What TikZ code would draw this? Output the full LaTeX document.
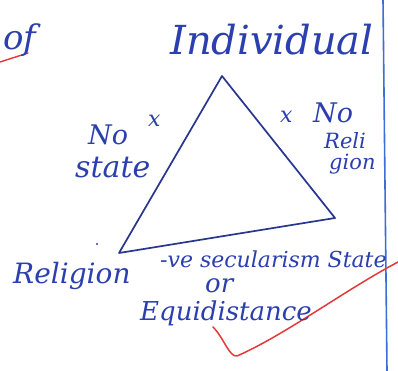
\documentclass[tikz,border=0pt]{standalone}
\usepackage{fontspec}
\setmainfont{DejaVu Serif}
\usepackage{tikz}
\begin{document}
\begin{tikzpicture}[x=1pt,y=-1pt,font=\itshape,line cap=round,line join=round,
  hand/.style={anchor=base west,inner sep=0pt,text=ink}]
\definecolor{ink}{HTML}{2B3FAE}\definecolor{inkii}{HTML}{28368E}
\definecolor{margin}{HTML}{3C6ED6}\definecolor{tick}{HTML}{E5383B}
\useasboundingbox[fill=white] (0,0) rectangle (398,371);
% margin rule and red marks
\draw[margin,line width=1.6pt] (383,0) -- (387,371);
\draw[tick,line width=1.4pt] (0,62) -- (28,53);
\draw[tick,line width=1.5pt] (213,327) .. controls (224,338) and (229,357) .. (237,356)
  .. controls (285,335) and (345,290) .. (398,262);
% heading
\node[hand,font=\fontsize{34}{34}\selectfont\itshape] (of) at (3,50) {of};
\node[hand,font=\fontsize{40}{40}\selectfont\itshape] (indiv) at (170,55) {Individual};
% triangle
\coordinate (top) at (222,76);
\coordinate (rgt) at (335,218);
\coordinate (lft) at (119,253);
\draw[inkii,line width=1.7pt] (top) -- (rgt) -- (lft) -- cycle;
\fill[ink] (97,244) circle (1.2);
% left side
\node[hand,font=\fontsize{22}{22}\selectfont\itshape] (xl) at (148,127) {x};
\node[hand,font=\fontsize{27}{27}\selectfont\itshape] (nol) at (88,145) {No};
\node[hand,font=\fontsize{30}{30}\selectfont\itshape] (state) at (75,178) {state};
% right side
\node[hand,font=\fontsize{22}{22}\selectfont\itshape] (xr) at (280,123) {x};
\node[hand,font=\fontsize{27}{27}\selectfont\itshape] (nor) at (313,123) {No};
\node[hand,font=\fontsize{21}{21}\selectfont\itshape] (reli) at (324,149) {Reli};
\node[hand,font=\fontsize{21}{21}\selectfont\itshape] (gion) at (329,170) {gion};
% bottom
\node[hand,font=\fontsize{28}{28}\selectfont\itshape] (relig) at (13,283) {Religion};
\node[hand,font=\fontsize{22}{22}\selectfont\itshape] (secul) at (160,267) {-ve secularism State};
\node[hand,font=\fontsize{26}{26}\selectfont\itshape] (or) at (205,292) {or};
\node[hand,font=\fontsize{26}{26}\selectfont\itshape] (equi) at (140,320) {Equidistance};
\end{tikzpicture}
\end{document}
